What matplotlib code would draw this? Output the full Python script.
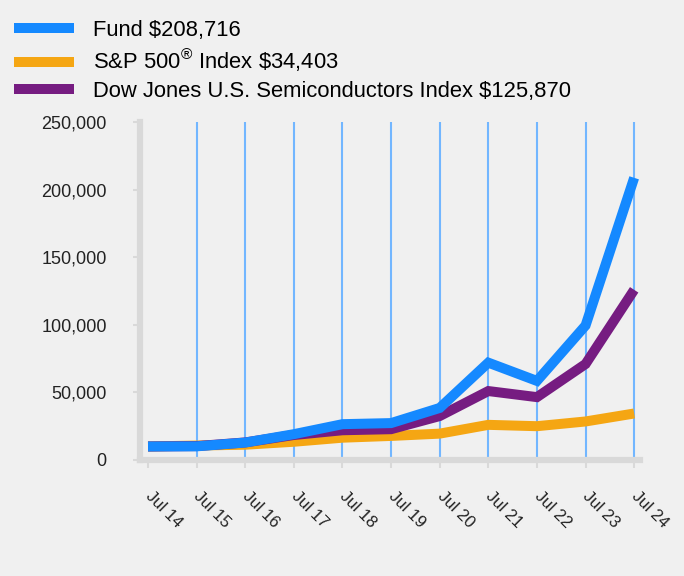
import matplotlib
matplotlib.use("Agg")
import matplotlib.pyplot as plt
from matplotlib.lines import Line2D

plt.rcParams['font.family'] = ['Liberation Sans', 'DejaVu Sans']
plt.rcParams['mathtext.fontset'] = 'custom'
plt.rcParams['mathtext.rm'] = 'Liberation Sans'
plt.rcParams['mathtext.it'] = 'Liberation Sans'

years = ["Jul 14", "Jul 15", "Jul 16", "Jul 17", "Jul 18", "Jul 19",
         "Jul 20", "Jul 21", "Jul 22", "Jul 23", "Jul 24"]
fund = [10000, 10100, 12900, 19100, 26500, 27300, 38500, 72000, 58500, 99500, 208716]
sp500 = [10000, 10700, 11300, 13500, 16500, 17800, 19500, 26000, 25000, 28500, 34403]
semis = [10000, 10300, 13000, 18500, 22000, 22800, 32500, 51000, 46500, 71000, 125870]

labels = ["Fund $208,716",
          r"S&P 500$^{\circledR}$ Index \$34,403",
          "Dow Jones U.S. Semiconductors Index $125,870"]
colors = ["#1589ff", "#f5a613", "#761c81"]

bg = "#f0f0f0"
fig = plt.figure(figsize=(6.84, 5.76), dpi=100, facecolor=bg)
ax = fig.add_axes([140/684, 1-460/576, 500/684, 338/576])
ax.set_facecolor(bg)

x = list(range(len(years)))
for xi in x[1:]:
    ax.axvline(xi, color="#72b6ff", lw=1.5, zorder=1)

lw = 7.2
ax.plot(x, sp500, color=colors[1], lw=lw, solid_joinstyle='miter', solid_capstyle='butt', zorder=3)
ax.plot(x, semis, color=colors[2], lw=lw, solid_joinstyle='miter', solid_capstyle='butt', zorder=4)
ax.plot(x, fund, color=colors[0], lw=lw, solid_joinstyle='miter', solid_capstyle='butt', zorder=5)

ax.set_xlim(-0.165, 10.12)
ax.set_ylim(0, 250000)
ax.set_yticks([0, 50000, 100000, 150000, 200000, 250000])
ax.set_yticklabels(["0", "50,000", "100,000", "150,000", "200,000", "250,000"], fontsize=13, color="#222222")
ax.set_xticks(x)
ax.set_xticklabels(years, rotation=-45, ha='left', va='center', rotation_mode='anchor',
                   fontsize=12, color="#222222")

for s in ['top', 'right']:
    ax.spines[s].set_visible(False)
for s in ['left', 'bottom']:
    ax.spines[s].set_color("#d9d9d9")
    ax.spines[s].set_linewidth(4.5)
ax.tick_params(axis='y', length=5, width=1.5, color="#d9d9d9", pad=19)
ax.tick_params(axis='x', length=6, width=1.5, color="#d9d9d9", pad=18)

handles = [Line2D([], [], color=c, lw=7.2, solid_capstyle='butt') for c in colors]
fig.legend(handles, labels, loc='upper left', bbox_to_anchor=(14/684, 1-20/576),
           frameon=False, fontsize=15.8, handlelength=2.75, handletextpad=0.86,
           labelspacing=0.28, borderaxespad=0, borderpad=0)

fig.savefig("out.png", dpi=100, facecolor=bg)
